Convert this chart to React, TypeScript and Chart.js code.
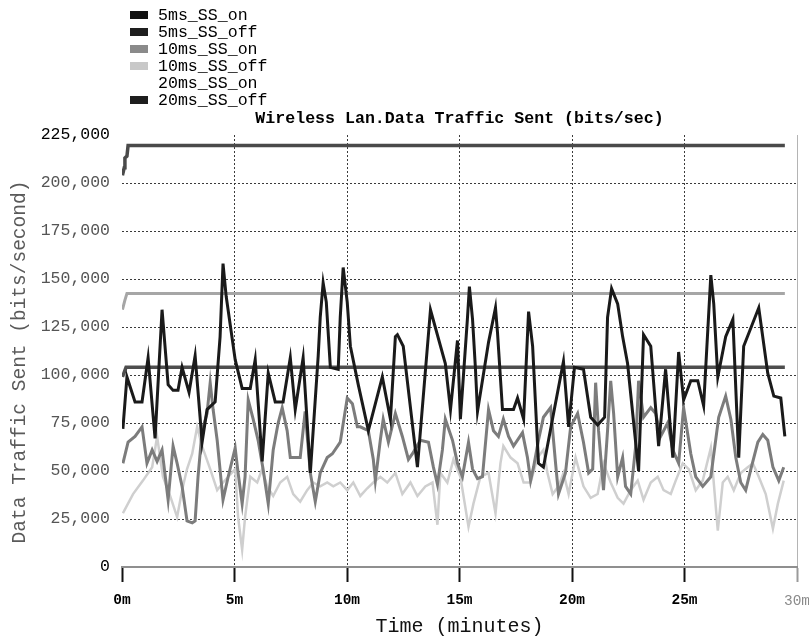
import { useEffect, useRef } from 'react';
import { Chart, registerables } from 'chart.js';

Chart.register(...registerables);

type Pt = [number, number];

// Each series: [time in minutes, traffic sent in bits/sec]
const seriesNames = ['5ms_SS_on', '5ms_SS_off', '10ms_SS_on', '10ms_SS_off', '20ms_SS_on', '20ms_SS_off'];

const ss5On: Pt[] = [
  [0.04, 72000], [0.22, 99000], [0.58, 86000], [0.89, 86000], [1.16, 109000], [1.47, 67000], [1.78, 134000],
  [2.05, 95000], [2.27, 92000], [2.49, 92000], [2.67, 104000], [2.98, 91000], [3.25, 110000], [3.56, 65000],
  [3.78, 82000], [4.14, 86000], [4.36, 120000], [4.49, 158000], [4.63, 141000], [5.03, 108000], [5.34, 93000],
  [5.70, 93000], [5.92, 108000], [6.23, 55000], [6.50, 101000], [6.81, 86000], [7.16, 86000], [7.48, 109000],
  [7.70, 82000], [8.05, 109000], [8.37, 49000], [8.72, 110000], [8.81, 130000], [8.94, 148000], [9.08, 138000],
  [9.26, 104000], [9.61, 103000], [9.70, 130000], [9.83, 156000], [10.01, 138000], [10.15, 115000], [10.50, 95000],
  [10.95, 71000], [11.57, 99000], [11.93, 77000], [12.15, 120000], [12.24, 121000], [12.50, 115000], [13.13, 52000],
  [13.71, 134000], [14.37, 106000], [14.60, 82000], [14.91, 118000], [15.04, 77000], [15.35, 129000], [15.44, 146000],
  [15.58, 129000], [15.71, 103000], [15.80, 81000], [16.29, 117000], [16.60, 135000], [16.69, 122000], [16.91, 82000],
  [17.40, 82000], [17.58, 88000], [17.85, 77000], [18.07, 133000], [18.25, 115000], [18.51, 54000], [18.73, 52000],
  [19.18, 80000], [19.62, 107000], [19.85, 73000], [20.11, 104000], [20.51, 103000], [20.83, 78000], [21.14, 74000],
  [21.45, 78000], [21.58, 130000], [21.76, 145000], [22.03, 137000], [22.25, 120000], [22.47, 106000], [22.96, 50000],
  [23.18, 121000], [23.50, 115000], [23.85, 63000], [24.16, 103000], [24.48, 57000], [24.74, 112000], [24.96, 87000],
  [25.28, 97000], [25.59, 97000], [25.85, 84000], [26.17, 152000], [26.30, 137000], [26.48, 99000], [26.83, 120000],
  [27.15, 129000], [27.41, 57000], [27.63, 115000], [28.30, 135000], [28.70, 101000], [28.97, 89000], [29.28, 88000],
  [29.46, 68000],
];

const ss5Off: Pt[] = [
  [0.02, 204000], [0.10, 208000], [0.13, 213000], [0.22, 214000], [0.27, 219500], [29.46, 219500],
];

const ss10On: Pt[] = [
  [0.04, 54000], [0.27, 65000], [0.58, 68000], [0.89, 73000], [1.11, 54000], [1.34, 61000], [1.56, 55000],
  [1.78, 61000], [2.05, 35000], [2.27, 63000], [2.45, 54000], [2.67, 42000], [2.89, 24000], [3.12, 23000],
  [3.25, 24000], [3.38, 47000], [3.56, 71000], [3.78, 80000], [3.92, 96000], [4.05, 82000], [4.23, 66000],
  [4.49, 35000], [4.72, 47000], [5.03, 62000], [5.16, 49000], [5.34, 33000], [5.47, 47000], [5.61, 87000],
  [5.83, 77000], [6.05, 66000], [6.27, 51000], [6.50, 33000], [6.72, 61000], [6.94, 75000], [7.12, 83000],
  [7.34, 71000], [7.48, 57000], [7.92, 57000], [8.14, 81000], [8.37, 49000], [8.59, 34000], [8.81, 49000],
  [9.12, 57000], [9.35, 59000], [9.70, 65000], [10.01, 88000], [10.24, 85000], [10.46, 73000], [10.59, 73000],
  [10.95, 71000], [11.17, 56000], [11.26, 45000], [11.48, 66000], [11.61, 77000], [11.84, 65000], [12.15, 80000],
  [12.46, 68000], [12.73, 56000], [12.91, 59000], [13.26, 66000], [13.62, 65000], [13.84, 52000], [14.02, 43000],
  [14.24, 61000], [14.37, 77000], [14.69, 66000], [14.91, 54000], [15.13, 47000], [15.40, 65000], [15.58, 51000],
  [15.80, 46000], [16.02, 47000], [16.29, 82000], [16.51, 71000], [16.73, 68000], [16.95, 77000], [17.18, 68000],
  [17.40, 63000], [17.80, 70000], [18.02, 57000], [18.16, 45000], [18.29, 52000], [18.51, 66000], [18.73, 78000],
  [19.05, 83000], [19.27, 54000], [19.40, 38000], [19.71, 49000], [19.94, 73000], [20.25, 80000], [20.51, 65000],
  [20.74, 49000], [20.92, 51000], [21.05, 96000], [21.18, 71000], [21.40, 40000], [21.58, 71000], [21.72, 97000],
  [21.85, 80000], [22.03, 47000], [22.25, 57000], [22.38, 42000], [22.61, 38000], [22.83, 63000], [22.96, 97000],
  [23.18, 78000], [23.50, 83000], [23.72, 80000], [23.94, 68000], [24.25, 75000], [24.48, 61000], [24.74, 54000],
  [24.96, 83000], [25.28, 59000], [25.50, 47000], [25.81, 42000], [26.17, 47000], [26.52, 78000], [26.83, 89000],
  [27.06, 77000], [27.28, 57000], [27.50, 44000], [27.72, 40000], [27.95, 51000], [28.26, 65000], [28.48, 69000],
  [28.70, 66000], [28.93, 52000], [29.19, 45000], [29.41, 52000],
];

const ss10Off: Pt[] = [
  [0.02, 134000], [0.13, 139000], [0.22, 142500], [29.46, 142500],
];

const ss20On: Pt[] = [
  [0.04, 28000], [0.49, 38000], [0.93, 45000], [1.34, 52000], [1.56, 68000], [1.82, 47000], [2.14, 37000],
  [2.45, 26000], [2.67, 40000], [2.89, 51000], [3.12, 59000], [3.34, 73000], [3.56, 63000], [3.92, 51000],
  [4.23, 40000], [4.49, 44000], [4.72, 47000], [5.03, 51000], [5.16, 26000], [5.34, 9000], [5.47, 26000],
  [5.70, 47000], [6.01, 44000], [6.23, 51000], [6.45, 42000], [6.72, 37000], [7.03, 44000], [7.34, 47000],
  [7.61, 38000], [7.92, 34000], [8.23, 40000], [8.50, 44000], [8.81, 42000], [9.12, 44000], [9.39, 42000],
  [9.70, 44000], [10.01, 40000], [10.28, 44000], [10.59, 37000], [10.90, 41000], [11.17, 44000], [11.48, 47000],
  [11.79, 44000], [12.15, 49000], [12.46, 38000], [12.82, 44000], [13.13, 37000], [13.48, 42000], [13.80, 44000],
  [14.02, 22000], [14.15, 49000], [14.46, 44000], [14.73, 56000], [15.04, 47000], [15.40, 21000], [15.62, 33000],
  [15.93, 47000], [16.29, 49000], [16.60, 28000], [16.82, 54000], [16.95, 63000], [17.27, 57000], [17.58, 54000],
  [17.85, 44000], [18.16, 44000], [18.47, 57000], [18.73, 61000], [18.91, 49000], [19.14, 38000], [19.40, 42000],
  [19.62, 49000], [19.85, 38000], [20.16, 57000], [20.51, 42000], [20.83, 36000], [21.14, 38000], [21.40, 54000],
  [21.72, 44000], [22.03, 36000], [22.29, 33000], [22.61, 40000], [22.92, 45000], [23.18, 35000], [23.50, 44000],
  [23.81, 47000], [24.07, 40000], [24.39, 38000], [24.61, 45000], [24.92, 54000], [25.19, 51000], [25.50, 40000],
  [25.81, 45000], [26.17, 62000], [26.48, 19000], [26.70, 44000], [26.92, 47000], [27.19, 40000], [27.50, 49000],
  [27.81, 52000], [28.04, 54000], [28.30, 47000], [28.61, 38000], [28.93, 20000], [29.15, 33000], [29.41, 45000],
];

const ss20Off: Pt[] = [
  [0.02, 99000], [0.18, 104000], [29.46, 104000],
];

const seriesData: Pt[][] = [ss5On, ss5Off, ss10On, ss10Off, ss20On, ss20Off];

// line colours, widths and key swatch colours per series
const lineColors = ['#1a1a1a', '#4a4a4a', '#7c7c7c', '#a6a6a6', '#cfcfcf', '#4e4e4e'];
const lineWidths = [3, 3.5, 3, 3, 2.5, 3.5];
const keyColors = ['#111111', '#1e1e1e', '#8a8a8a', '#c8c8c8', '#ffffff', '#1e1e1e'];

const xMax = 30;
const xStep = 5;
const yMax = 225000;
const yStep = 25000;
const yAxisTitle = 'Data Traffic Sent (bits/second)';

const MONO = '"Liberation Mono", "DejaVu Sans Mono", monospace';

// series key in the top-left corner and the vertical axis caption
const decorations = {
  id: 'decorations',
  afterDraw(chart: any) {
    const { ctx } = chart;
    ctx.save();
    ctx.font = `16.6px ${MONO}`;
    ctx.textBaseline = 'middle';
    ctx.textAlign = 'left';
    chart.data.datasets.forEach((ds: any, i: number) => {
      const y = 15 + i * 17;
      ctx.fillStyle = keyColors[i];
      ctx.fillRect(130, y - 4, 18, 8);
      ctx.fillStyle = '#000';
      ctx.fillText(ds.label, 158, y + 1);
    });
    ctx.restore();

    ctx.save();
    ctx.translate(20, 362);
    ctx.rotate(-Math.PI / 2);
    ctx.font = `19.5px ${MONO}`;
    ctx.fillStyle = '#5a5a5a';
    ctx.textAlign = 'center';
    ctx.textBaseline = 'middle';
    ctx.fillText(yAxisTitle, 0, 0);
    ctx.restore();
  },
};

export default function App() {
  const canvasRef = useRef<HTMLCanvasElement | null>(null);

  useEffect(() => {
    if (!canvasRef.current) return;
    Chart.defaults.font.family = MONO;
    const chart = new Chart(canvasRef.current, {
      type: 'line',
      data: {
        datasets: seriesNames.map((name, i) => ({
          label: name,
          data: seriesData[i].map(([x, y]) => ({ x, y })),
          borderColor: lineColors[i],
          backgroundColor: lineColors[i],
          borderWidth: lineWidths[i],
          pointRadius: 0,
          tension: 0,
          fill: false,
          borderJoinStyle: 'miter' as const,
        })),
      },
      options: {
        animation: false,
        responsive: false,
        events: [],
        layout: { padding: { left: 0, right: 12, top: 0, bottom: 0 } },
        plugins: {
          legend: { display: false },
          tooltip: { enabled: false },
          title: {
            display: true,
            fullSize: false,
            text: 'Wireless Lan.Data Traffic Sent (bits/sec)',
            color: '#000',
            font: { family: MONO, size: 16.6, weight: 'bold' },
            padding: { top: 109, bottom: 6.1 },
          },
        },
        scales: {
          x: {
            type: 'linear',
            min: 0,
            max: xMax,
            ticks: {
              stepSize: xStep,
              maxRotation: 0,
              padding: 10,
              color: (c: any) => (c.tick && c.tick.value === xMax ? '#8a8a8a' : '#000'),
              font: (c: any) => ({
                family: MONO,
                size: 14.5,
                weight: c.tick && c.tick.value === xMax ? 'normal' : 'bold',
              }),
              callback: (v: any) => `${v}m`,
            },
            grid: {
              color: (c: any) => {
                const v = c.tick ? c.tick.value : -1;
                if (v === 0) return 'rgba(0,0,0,0)';
                if (v === xMax) return '#b4b4b4';
                return '#3a3a3a';
              },
              lineWidth: 1,
              drawTicks: true,
              tickLength: 15,
              tickWidth: 2,
              tickColor: (c: any) => (c.tick && c.tick.value === xMax ? '#9a9a9a' : '#111'),
              tickBorderDash: [],
            },
            border: {
              display: true,
              color: '#8f8f8f',
              width: 2,
              dash: (c: any) => (c.tick && c.tick.value === xMax ? [] : [2, 2]),
            },
            title: {
              display: true,
              text: 'Time (minutes)',
              color: '#111',
              font: { family: MONO, size: 20 },
              padding: { top: 0, bottom: 0 },
            },
            afterFit: (s: any) => {
              s.height = 72;
              s.paddingLeft = 0;
              s.paddingRight = 0;
            },
          },
          y: {
            type: 'linear',
            min: 0,
            max: yMax,
            ticks: {
              stepSize: yStep,
              padding: 12,
              color: (c: any) => {
                const v = c.tick ? c.tick.value : -1;
                return v === 0 || v === yMax ? '#000' : '#555';
              },
              font: { family: MONO, size: 16.5 },
              callback: (v: any) => Number(v).toLocaleString('en-US'),
            },
            grid: {
              drawTicks: false,
              lineWidth: 1,
              color: (c: any) => {
                const v = c.tick ? c.tick.value : -1;
                return v === 0 || v === yMax ? 'rgba(0,0,0,0)' : '#3a3a3a';
              },
            },
            border: { display: false, dash: [2, 2] },
            title: { display: false },
            afterFit: (s: any) => {
              s.width = 122;
            },
          },
        },
      },
      plugins: [decorations],
    } as any);
    return () => chart.destroy();
  }, []);

  return (
    <div style={{ position: 'absolute', left: 0, top: 0, width: 809, height: 639, background: '#fff' }}>
      <canvas ref={canvasRef} width={809} height={639} />
    </div>
  );
}
